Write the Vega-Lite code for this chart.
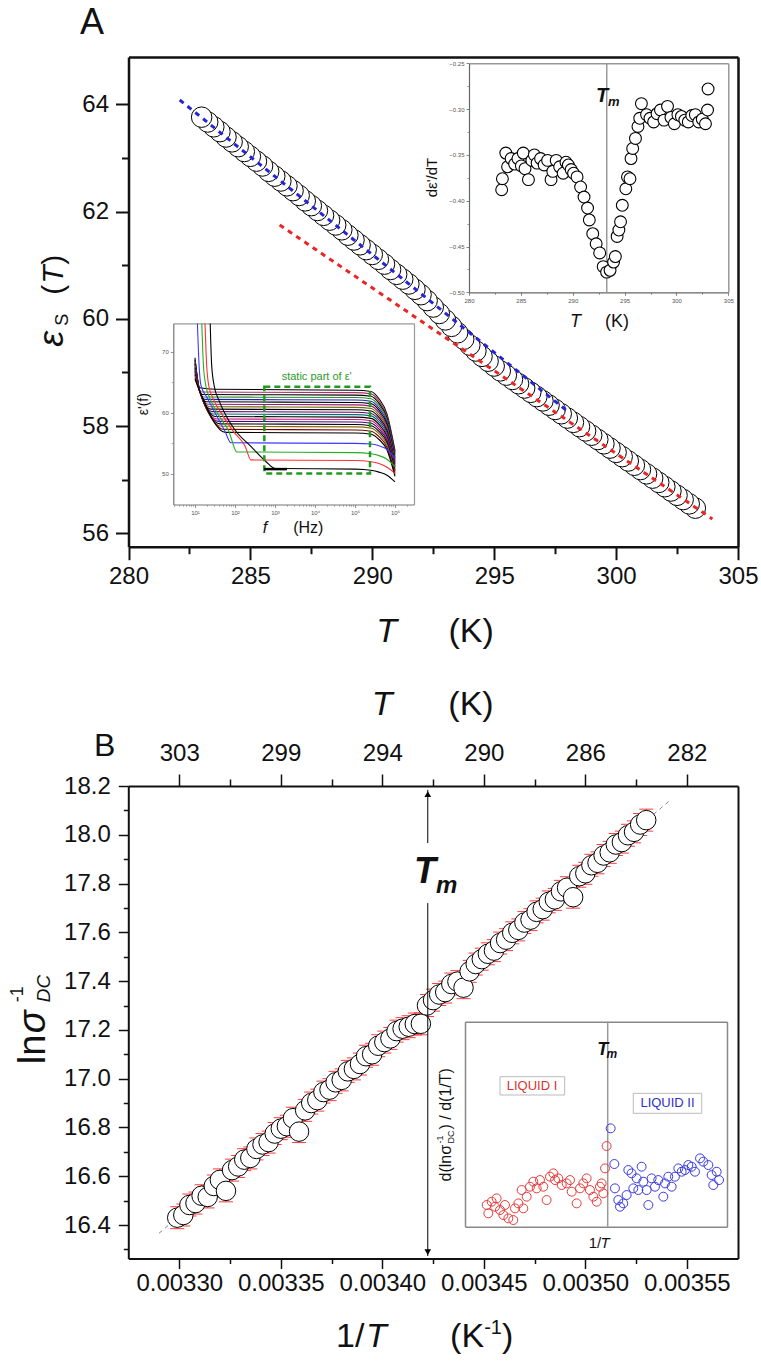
{
"$schema": "https://vega.github.io/schema/vega-lite/v6.json",
"width": 761, "height": 1366,
"autosize": {"type": "none"},
"padding": 0,
"background": "white",
"config": {
  "view": {"stroke": null},
  "axis": {"grid": false, "labelFont": "Liberation Sans", "titleFont": "Liberation Sans", "domainColor": "#111", "tickColor": "#111", "labelColor": "#111", "labelFlush": false, "labelOverlap": false},
  "text": {"font": "Liberation Sans", "color": "#111"}
},
"datasets": {
  "one": [{"k": 1}],
  "epsA": [
    {"T":303.25,"e":56.47},{"T":303.0,"e":56.55},{"T":302.75,"e":56.63},{"T":302.5,"e":56.71},{"T":302.25,"e":56.79},{"T":302.0,"e":56.87},{"T":301.75,"e":56.95},{"T":301.5,"e":57.03},{"T":301.25,"e":57.11},{"T":301.0,"e":57.19},{"T":300.75,"e":57.27},{"T":300.5,"e":57.35},{"T":300.25,"e":57.43},{"T":300.0,"e":57.51},{"T":299.75,"e":57.59},{"T":299.5,"e":57.67},{"T":299.25,"e":57.75},{"T":299.0,"e":57.83},{"T":298.75,"e":57.91},{"T":298.5,"e":57.99},{"T":298.25,"e":58.07},{"T":298.0,"e":58.15},{"T":297.75,"e":58.23},{"T":297.5,"e":58.31},{"T":297.25,"e":58.39},{"T":297.0,"e":58.47},{"T":296.75,"e":58.55},{"T":296.5,"e":58.63},{"T":296.25,"e":58.71},{"T":296.0,"e":58.79},{"T":295.75,"e":58.87},{"T":295.5,"e":58.95},{"T":295.25,"e":59.03},{"T":295.0,"e":59.12},{"T":294.75,"e":59.21},{"T":294.5,"e":59.30},{"T":294.25,"e":59.40},{"T":294.0,"e":59.51},{"T":293.75,"e":59.62},{"T":293.5,"e":59.74},{"T":293.25,"e":59.86},{"T":293.0,"e":59.98},{"T":292.75,"e":60.10},{"T":292.5,"e":60.22},{"T":292.25,"e":60.34},{"T":292.0,"e":60.45},{"T":291.75,"e":60.55},{"T":291.5,"e":60.65},{"T":291.25,"e":60.74},{"T":291.0,"e":60.83},{"T":290.75,"e":60.92},{"T":290.5,"e":61.02},{"T":290.25,"e":61.11},{"T":290.0,"e":61.20},{"T":289.75,"e":61.29},{"T":289.5,"e":61.38},{"T":289.25,"e":61.47},{"T":289.0,"e":61.56},{"T":288.75,"e":61.66},{"T":288.5,"e":61.75},{"T":288.25,"e":61.84},{"T":288.0,"e":61.93},{"T":287.75,"e":62.02},{"T":287.5,"e":62.11},{"T":287.25,"e":62.20},{"T":287.0,"e":62.30},{"T":286.75,"e":62.39},{"T":286.5,"e":62.48},{"T":286.25,"e":62.57},{"T":286.0,"e":62.66},{"T":285.75,"e":62.75},{"T":285.5,"e":62.85},{"T":285.25,"e":62.94},{"T":285.0,"e":63.03},{"T":284.75,"e":63.12},{"T":284.5,"e":63.21},{"T":284.25,"e":63.30},{"T":284.0,"e":63.39},{"T":283.75,"e":63.49},{"T":283.5,"e":63.58},{"T":283.25,"e":63.67},{"T":283.0,"e":63.76}
  ],
  "blueA": [{"T":282.1,"e":64.08},{"T":298.0,"e":58.28}],
  "redA": [{"T":286.2,"e":61.75},{"T":303.95,"e":56.27}],
  "dA": [
    {"T":283.15,"v":-0.388},{"T":283.22,"v":-0.376},{"T":283.55,"v":-0.348},{"T":283.72,"v":-0.363},{"T":284.06,"v":-0.354},{"T":284.40,"v":-0.360},{"T":284.72,"v":-0.354},{"T":285.05,"v":-0.362},{"T":285.23,"v":-0.348},{"T":285.40,"v":-0.365},{"T":285.73,"v":-0.377},{"T":286.06,"v":-0.356},{"T":286.30,"v":-0.350},{"T":286.57,"v":-0.359},{"T":286.90,"v":-0.354},{"T":287.24,"v":-0.361},{"T":287.58,"v":-0.356},{"T":287.91,"v":-0.377},{"T":288.08,"v":-0.368},{"T":288.41,"v":-0.356},{"T":288.74,"v":-0.363},{"T":289.08,"v":-0.370},{"T":289.35,"v":-0.358},{"T":289.58,"v":-0.361},{"T":289.85,"v":-0.366},{"T":290.08,"v":-0.370},{"T":290.42,"v":-0.374},{"T":290.76,"v":-0.385},{"T":291.09,"v":-0.396},{"T":291.43,"v":-0.408},{"T":291.60,"v":-0.421},{"T":291.93,"v":-0.436},{"T":292.26,"v":-0.447},{"T":292.60,"v":-0.457},{"T":292.94,"v":-0.472},{"T":293.27,"v":-0.478},{"T":293.60,"v":-0.476},{"T":293.94,"v":-0.467},{"T":294.11,"v":-0.461},{"T":294.28,"v":-0.439},{"T":294.45,"v":-0.432},{"T":294.61,"v":-0.423},{"T":294.78,"v":-0.405},{"T":295.12,"v":-0.387},{"T":295.28,"v":-0.374},{"T":295.52,"v":-0.376},{"T":295.62,"v":-0.354},{"T":295.78,"v":-0.343},{"T":296.05,"v":-0.332},{"T":296.29,"v":-0.319},{"T":296.46,"v":-0.310},{"T":296.62,"v":-0.294},{"T":297.12,"v":-0.306},{"T":297.45,"v":-0.310},{"T":297.80,"v":-0.314},{"T":298.13,"v":-0.305},{"T":298.46,"v":-0.301},{"T":298.80,"v":-0.312},{"T":299.14,"v":-0.297},{"T":299.47,"v":-0.309},{"T":299.80,"v":-0.316},{"T":300.14,"v":-0.306},{"T":300.48,"v":-0.308},{"T":300.81,"v":-0.312},{"T":301.14,"v":-0.314},{"T":301.48,"v":-0.307},{"T":301.82,"v":-0.306},{"T":302.15,"v":-0.314},{"T":302.49,"v":-0.311},{"T":302.80,"v":-0.316},{"T":303.00,"v":-0.301},{"T":303.05,"v":-0.278}
  ],
  "curves": [
    {"c":"d01","f":10,"e":69.0},{"c":"d01","f":13.18,"e":64.1},{"c":"d01","f":31.6,"e":63.85},{"c":"d01","f":100000,"e":63.7},{"c":"d01","f":251200,"e":63.5},{"c":"d01","f":398100,"e":62.3},{"c":"d01","f":631000,"e":59.8},{"c":"d01","f":1000000,"e":53.8},
    {"c":"d02","f":10,"e":68.8},{"c":"d02","f":13.18,"e":63.5},{"c":"d02","f":13.5,"e":63.4},{"c":"d02","f":100000,"e":63.3},{"c":"d02","f":251200,"e":63.1},{"c":"d02","f":398100,"e":61.92},{"c":"d02","f":631000,"e":59.46},{"c":"d02","f":1000000,"e":53.56},
    {"c":"d03","f":10,"e":68.6},{"c":"d03","f":13.18,"e":63.5},{"c":"d03","f":14.7,"e":63.0},{"c":"d03","f":100000,"e":62.9},{"c":"d03","f":251200,"e":62.7},{"c":"d03","f":398100,"e":61.54},{"c":"d03","f":631000,"e":59.13},{"c":"d03","f":1000000,"e":53.32},
    {"c":"d04","f":10,"e":68.4},{"c":"d04","f":13.18,"e":63.5},{"c":"d04","f":16.1,"e":62.6},{"c":"d04","f":100000,"e":62.5},{"c":"d04","f":251200,"e":62.3},{"c":"d04","f":398100,"e":61.16},{"c":"d04","f":631000,"e":58.79},{"c":"d04","f":1000000,"e":53.08},
    {"c":"d05","f":10,"e":68.2},{"c":"d05","f":13.18,"e":63.5},{"c":"d05","f":17.5,"e":62.2},{"c":"d05","f":100000,"e":62.1},{"c":"d05","f":251200,"e":61.9},{"c":"d05","f":398100,"e":60.78},{"c":"d05","f":631000,"e":58.46},{"c":"d05","f":1000000,"e":52.84},
    {"c":"d06","f":10,"e":68.0},{"c":"d06","f":13.18,"e":63.5},{"c":"d06","f":19.1,"e":61.8},{"c":"d06","f":100000,"e":61.7},{"c":"d06","f":251200,"e":61.5},{"c":"d06","f":398100,"e":60.40},{"c":"d06","f":631000,"e":58.12},{"c":"d06","f":1000000,"e":52.6},
    {"c":"d07","f":10,"e":67.8},{"c":"d07","f":13.18,"e":63.5},{"c":"d07","f":20.9,"e":61.4},{"c":"d07","f":100000,"e":61.3},{"c":"d07","f":251200,"e":61.1},{"c":"d07","f":398100,"e":60.02},{"c":"d07","f":631000,"e":57.78},{"c":"d07","f":1000000,"e":52.36},
    {"c":"d08","f":10,"e":67.6},{"c":"d08","f":13.18,"e":63.5},{"c":"d08","f":22.8,"e":61.0},{"c":"d08","f":100000,"e":60.9},{"c":"d08","f":251200,"e":60.7},{"c":"d08","f":398100,"e":59.63},{"c":"d08","f":631000,"e":57.45},{"c":"d08","f":1000000,"e":52.12},
    {"c":"d09","f":10,"e":67.4},{"c":"d09","f":13.18,"e":63.5},{"c":"d09","f":24.9,"e":60.6},{"c":"d09","f":100000,"e":60.5},{"c":"d09","f":251200,"e":60.3},{"c":"d09","f":398100,"e":59.25},{"c":"d09","f":631000,"e":57.11},{"c":"d09","f":1000000,"e":51.88},
    {"c":"d10","f":10,"e":67.2},{"c":"d10","f":13.18,"e":63.5},{"c":"d10","f":27.2,"e":60.2},{"c":"d10","f":100000,"e":60.1},{"c":"d10","f":251200,"e":59.9},{"c":"d10","f":398100,"e":58.87},{"c":"d10","f":631000,"e":56.78},{"c":"d10","f":1000000,"e":51.64},
    {"c":"d11","f":10,"e":67.0},{"c":"d11","f":13.18,"e":63.5},{"c":"d11","f":29.6,"e":59.8},{"c":"d11","f":100000,"e":59.7},{"c":"d11","f":251200,"e":59.5},{"c":"d11","f":398100,"e":58.49},{"c":"d11","f":631000,"e":56.44},{"c":"d11","f":1000000,"e":51.4},
    {"c":"d12","f":10,"e":66.8},{"c":"d12","f":13.18,"e":63.5},{"c":"d12","f":32.4,"e":59.4},{"c":"d12","f":100000,"e":59.3},{"c":"d12","f":251200,"e":59.1},{"c":"d12","f":398100,"e":58.11},{"c":"d12","f":631000,"e":56.10},{"c":"d12","f":1000000,"e":51.16},
    {"c":"d13","f":10,"e":66.6},{"c":"d13","f":13.18,"e":63.5},{"c":"d13","f":35.3,"e":59.0},{"c":"d13","f":100000,"e":58.9},{"c":"d13","f":251200,"e":58.7},{"c":"d13","f":398100,"e":57.73},{"c":"d13","f":631000,"e":55.77},{"c":"d13","f":1000000,"e":50.92},
    {"c":"d14","f":10,"e":66.4},{"c":"d14","f":13.18,"e":63.5},{"c":"d14","f":38.6,"e":58.6},{"c":"d14","f":100000,"e":58.5},{"c":"d14","f":251200,"e":58.3},{"c":"d14","f":398100,"e":57.35},{"c":"d14","f":631000,"e":55.43},{"c":"d14","f":1000000,"e":50.68},
    {"c":"d15","f":10,"e":66.2},{"c":"d15","f":13.18,"e":63.5},{"c":"d15","f":42.2,"e":58.2},{"c":"d15","f":100000,"e":58.1},{"c":"d15","f":251200,"e":57.9},{"c":"d15","f":398100,"e":56.97},{"c":"d15","f":631000,"e":55.10},{"c":"d15","f":1000000,"e":50.44},
    {"c":"d16","f":10,"e":66.0},{"c":"d16","f":13.18,"e":63.5},{"c":"d16","f":46.0,"e":57.8},{"c":"d16","f":100000,"e":57.7},{"c":"d16","f":251200,"e":57.5},{"c":"d16","f":398100,"e":56.59},{"c":"d16","f":631000,"e":54.76},{"c":"d16","f":1000000,"e":50.2},
    {"c":"d17","f":10,"e":65.75},{"c":"d17","f":13.18,"e":63.5},{"c":"d17","f":51.3,"e":57.3},{"c":"d17","f":100000,"e":57.2},{"c":"d17","f":251200,"e":57.0},{"c":"d17","f":398100,"e":56.11},{"c":"d17","f":631000,"e":54.34},{"c":"d17","f":1000000,"e":49.9},
    {"c":"d18","f":10,"e":65.5},{"c":"d18","f":13.18,"e":63.5},{"c":"d18","f":57.3,"e":56.8},{"c":"d18","f":100000,"e":56.7},{"c":"d18","f":251200,"e":56.5},{"c":"d18","f":398100,"e":55.64},{"c":"d18","f":631000,"e":53.92},{"c":"d18","f":1000000,"e":49.6},
    {"c":"lb","f":11.5,"e":74.6},{"c":"lb","f":12.6,"e":68.0},{"c":"lb","f":14.1,"e":64.5},{"c":"lb","f":20,"e":62.5},{"c":"lb","f":31.6,"e":60.0},{"c":"lb","f":56,"e":57.0},{"c":"lb","f":79.4,"e":55.1},{"c":"lb","f":100000,"e":55.0},{"c":"lb","f":251200,"e":54.9},{"c":"lb","f":398100,"e":54.6},{"c":"lb","f":631000,"e":54.0},{"c":"lb","f":1000000,"e":52.5},
    {"c":"lg","f":14.8,"e":74.6},{"c":"lg","f":16.2,"e":68.0},{"c":"lg","f":18.6,"e":64.5},{"c":"lg","f":25,"e":62.0},{"c":"lg","f":40,"e":59.5},{"c":"lg","f":70,"e":57.0},{"c":"lg","f":112,"e":53.6},{"c":"lg","f":100000,"e":53.5},{"c":"lg","f":251200,"e":53.3},{"c":"lg","f":398100,"e":53.0},{"c":"lg","f":631000,"e":52.4},{"c":"lg","f":1000000,"e":51.2},
    {"c":"lr","f":17.8,"e":74.6},{"c":"lr","f":19.5,"e":68.0},{"c":"lr","f":22,"e":64.5},{"c":"lr","f":30,"e":62.0},{"c":"lr","f":50,"e":59.5},{"c":"lr","f":90,"e":57.0},{"c":"lr","f":180,"e":54.5},{"c":"lr","f":250,"e":52.3},{"c":"lr","f":100000,"e":52.2},{"c":"lr","f":251200,"e":52.0},{"c":"lr","f":398100,"e":51.7},{"c":"lr","f":631000,"e":51.1},{"c":"lr","f":1000000,"e":50.1},
    {"c":"lk","f":24,"e":74.6},{"c":"lk","f":26,"e":68.0},{"c":"lk","f":30,"e":64.5},{"c":"lk","f":40,"e":62.0},{"c":"lk","f":60,"e":59.5},{"c":"lk","f":100,"e":57.2},{"c":"lk","f":250,"e":54.5},{"c":"lk","f":600,"e":52.0},{"c":"lk","f":1000,"e":50.9},{"c":"lk","f":100000,"e":50.8},{"c":"lk","f":251200,"e":50.6},{"c":"lk","f":398100,"e":50.3},{"c":"lk","f":631000,"e":49.8},{"c":"lk","f":1000000,"e":48.7}
  ],
  "lnB": [
    {"x":0.003299,"y":16.430,"lo":16.385,"hi":16.475},{"x":0.003302,"y":16.441,"lo":16.396,"hi":16.486},{"x":0.003305,"y":16.482,"lo":16.437,"hi":16.527},{"x":0.003308,"y":16.490,"lo":16.445,"hi":16.535},{"x":0.003311,"y":16.520,"lo":16.475,"hi":16.565},{"x":0.003314,"y":16.515,"lo":16.470,"hi":16.560},{"x":0.003317,"y":16.560,"lo":16.515,"hi":16.605},{"x":0.003320,"y":16.585,"lo":16.540,"hi":16.630},{"x":0.003323,"y":16.540,"lo":16.495,"hi":16.585},{"x":0.003326,"y":16.625,"lo":16.580,"hi":16.670},
    {"x":0.003329,"y":16.640,"lo":16.595,"hi":16.685},{"x":0.003332,"y":16.668,"lo":16.623,"hi":16.713},{"x":0.003335,"y":16.675,"lo":16.630,"hi":16.720},{"x":0.003338,"y":16.712,"lo":16.667,"hi":16.757},{"x":0.003341,"y":16.730,"lo":16.685,"hi":16.775},{"x":0.003344,"y":16.740,"lo":16.695,"hi":16.785},{"x":0.003347,"y":16.775,"lo":16.730,"hi":16.820},{"x":0.003350,"y":16.795,"lo":16.750,"hi":16.840},{"x":0.003353,"y":16.805,"lo":16.760,"hi":16.850},{"x":0.003356,"y":16.838,"lo":16.793,"hi":16.883},
    {"x":0.003359,"y":16.783,"lo":16.738,"hi":16.828},{"x":0.003362,"y":16.870,"lo":16.825,"hi":16.915},{"x":0.003365,"y":16.900,"lo":16.855,"hi":16.945},{"x":0.003368,"y":16.912,"lo":16.867,"hi":16.957},{"x":0.003371,"y":16.945,"lo":16.900,"hi":16.990},{"x":0.003374,"y":16.955,"lo":16.910,"hi":17.000},{"x":0.003377,"y":16.985,"lo":16.940,"hi":17.030},{"x":0.003380,"y":16.995,"lo":16.950,"hi":17.040},{"x":0.003383,"y":17.030,"lo":16.985,"hi":17.075},{"x":0.003386,"y":17.040,"lo":16.995,"hi":17.085},
    {"x":0.003389,"y":17.060,"lo":17.015,"hi":17.105},{"x":0.003392,"y":17.092,"lo":17.047,"hi":17.137},{"x":0.003395,"y":17.100,"lo":17.055,"hi":17.145},{"x":0.003398,"y":17.135,"lo":17.090,"hi":17.180},{"x":0.003401,"y":17.150,"lo":17.105,"hi":17.195},{"x":0.003404,"y":17.165,"lo":17.120,"hi":17.210},{"x":0.003407,"y":17.195,"lo":17.150,"hi":17.240},{"x":0.003410,"y":17.205,"lo":17.160,"hi":17.250},{"x":0.003413,"y":17.213,"lo":17.168,"hi":17.258},{"x":0.003416,"y":17.224,"lo":17.179,"hi":17.269},
    {"x":0.003419,"y":17.225,"lo":17.180,"hi":17.270},{"x":0.003422,"y":17.300,"lo":17.255,"hi":17.345},{"x":0.003425,"y":17.322,"lo":17.277,"hi":17.367},{"x":0.003428,"y":17.345,"lo":17.300,"hi":17.390},{"x":0.003431,"y":17.355,"lo":17.310,"hi":17.400},{"x":0.003434,"y":17.388,"lo":17.343,"hi":17.433},{"x":0.003437,"y":17.398,"lo":17.353,"hi":17.443},{"x":0.003440,"y":17.373,"lo":17.328,"hi":17.418},{"x":0.003443,"y":17.440,"lo":17.395,"hi":17.485},{"x":0.003446,"y":17.470,"lo":17.425,"hi":17.515},
    {"x":0.003449,"y":17.490,"lo":17.445,"hi":17.535},{"x":0.003452,"y":17.512,"lo":17.467,"hi":17.557},{"x":0.003455,"y":17.525,"lo":17.480,"hi":17.570},{"x":0.003458,"y":17.556,"lo":17.511,"hi":17.601},{"x":0.003461,"y":17.570,"lo":17.525,"hi":17.615},{"x":0.003464,"y":17.598,"lo":17.553,"hi":17.643},{"x":0.003467,"y":17.610,"lo":17.565,"hi":17.655},{"x":0.003470,"y":17.640,"lo":17.595,"hi":17.685},{"x":0.003473,"y":17.652,"lo":17.607,"hi":17.697},{"x":0.003476,"y":17.684,"lo":17.639,"hi":17.729},
    {"x":0.003479,"y":17.695,"lo":17.650,"hi":17.740},{"x":0.003482,"y":17.725,"lo":17.680,"hi":17.770},{"x":0.003485,"y":17.735,"lo":17.690,"hi":17.780},{"x":0.003488,"y":17.768,"lo":17.723,"hi":17.813},{"x":0.003491,"y":17.783,"lo":17.738,"hi":17.828},{"x":0.003494,"y":17.744,"lo":17.699,"hi":17.789},{"x":0.003497,"y":17.830,"lo":17.785,"hi":17.875},{"x":0.003500,"y":17.842,"lo":17.797,"hi":17.887},{"x":0.003503,"y":17.875,"lo":17.830,"hi":17.920},{"x":0.003506,"y":17.885,"lo":17.840,"hi":17.930},
    {"x":0.003509,"y":17.915,"lo":17.870,"hi":17.960},{"x":0.003512,"y":17.928,"lo":17.883,"hi":17.973},{"x":0.003515,"y":17.960,"lo":17.915,"hi":18.005},{"x":0.003518,"y":17.970,"lo":17.925,"hi":18.015},{"x":0.003521,"y":17.998,"lo":17.953,"hi":18.043},{"x":0.003524,"y":18.012,"lo":17.967,"hi":18.057},{"x":0.003527,"y":18.042,"lo":17.997,"hi":18.087},{"x":0.003530,"y":18.060,"lo":18.015,"hi":18.105}
  ],
  "fitB": [{"x":0.003290,"y":16.366},{"x":0.003541,"y":18.136}],
  "derB": [
    {"x":0.0033006,"y":6293,"g":"I"},{"x":0.0032990,"y":6476,"g":"I"},{"x":0.0033040,"y":6549,"g":"I"},{"x":0.0033090,"y":6622,"g":"I"},{"x":0.0033074,"y":6439,"g":"I"},{"x":0.0033124,"y":6366,"g":"I"},{"x":0.0033158,"y":6256,"g":"I"},{"x":0.0033174,"y":6476,"g":"I"},{"x":0.0033208,"y":6183,"g":"I"},{"x":0.0033258,"y":6146,"g":"I"},{"x":0.0033275,"y":6402,"g":"I"},{"x":0.0033309,"y":6512,"g":"I"},{"x":0.0033359,"y":6402,"g":"I"},{"x":0.0033342,"y":6805,"g":"I"},{"x":0.0033393,"y":6659,"g":"I"},{"x":0.0033426,"y":6878,"g":"I"},{"x":0.0033460,"y":6988,"g":"I"},{"x":0.0033494,"y":6842,"g":"I"},{"x":0.0033527,"y":7024,"g":"I"},{"x":0.0033561,"y":6878,"g":"I"},{"x":0.0033594,"y":6585,"g":"I"},{"x":0.0033628,"y":7098,"g":"I"},{"x":0.0033662,"y":7171,"g":"I"},{"x":0.0033679,"y":7024,"g":"I"},{"x":0.0033712,"y":7061,"g":"I"},{"x":0.0033746,"y":6915,"g":"I"},{"x":0.0033796,"y":6951,"g":"I"},{"x":0.0033830,"y":7024,"g":"I"},{"x":0.0033847,"y":6768,"g":"I"},{"x":0.0033897,"y":6512,"g":"I"},{"x":0.0033931,"y":6842,"g":"I"},{"x":0.0033964,"y":6951,"g":"I"},{"x":0.0033998,"y":7061,"g":"I"},{"x":0.0034031,"y":6805,"g":"I"},{"x":0.0034065,"y":6659,"g":"I"},{"x":0.0034099,"y":6549,"g":"I"},{"x":0.0034132,"y":6878,"g":"I"},{"x":0.0034149,"y":6951,"g":"I"},{"x":0.0034166,"y":6732,"g":"I"},{"x":0.0034183,"y":7280,"g":"I"},{"x":0.0034199,"y":7771,"g":"I"},
    {"x":0.0034240,"y":8159,"g":"II"},{"x":0.0034277,"y":7376,"g":"II"},{"x":0.0034283,"y":6842,"g":"II"},{"x":0.0034317,"y":6585,"g":"II"},{"x":0.0034334,"y":6439,"g":"II"},{"x":0.0034367,"y":6512,"g":"II"},{"x":0.0034401,"y":6695,"g":"II"},{"x":0.0034418,"y":7244,"g":"II"},{"x":0.0034451,"y":7171,"g":"II"},{"x":0.0034468,"y":6842,"g":"II"},{"x":0.0034502,"y":7061,"g":"II"},{"x":0.0034519,"y":6805,"g":"II"},{"x":0.0034552,"y":7317,"g":"II"},{"x":0.0034569,"y":6988,"g":"II"},{"x":0.0034603,"y":6805,"g":"II"},{"x":0.0034620,"y":6476,"g":"II"},{"x":0.0034653,"y":7061,"g":"II"},{"x":0.0034687,"y":6878,"g":"II"},{"x":0.0034720,"y":7024,"g":"II"},{"x":0.0034771,"y":6659,"g":"II"},{"x":0.0034788,"y":6951,"g":"II"},{"x":0.0034821,"y":7098,"g":"II"},{"x":0.0034855,"y":6878,"g":"II"},{"x":0.0034888,"y":7098,"g":"II"},{"x":0.0034922,"y":7280,"g":"II"},{"x":0.0034956,"y":7207,"g":"II"},{"x":0.0034989,"y":7244,"g":"II"},{"x":0.0035023,"y":7354,"g":"II"},{"x":0.0035057,"y":7317,"g":"II"},{"x":0.0035090,"y":7207,"g":"II"},{"x":0.0035141,"y":7500,"g":"II"},{"x":0.0035174,"y":7427,"g":"II"},{"x":0.0035225,"y":7354,"g":"II"},{"x":0.0035258,"y":7134,"g":"II"},{"x":0.0035275,"y":6915,"g":"II"},{"x":0.0035309,"y":7207,"g":"II"},{"x":0.0035333,"y":7024,"g":"II"}
  ]
},
"layer": [
  {
    "layer": [
      {"data": {"name": "curves"}, "mark": {"type": "line", "strokeWidth": 1.1, "interpolate": "monotone"},
       "encoding": {
         "x": {"field": "f", "type": "quantitative", "scale": {"type": "log", "domain": [2.868, 2985000], "range": [173.3, 414], "nice": false},
               "axis": {"orient": "bottom", "offset": -861.5, "values": [10, 100, 1000, 10000, 100000, 1000000], "labelExpr": "'10' + ['⁰','¹','²','³','⁴','⁵','⁶','⁷'][round(log(datum.value)/LN10)]", "labelFontSize": 6, "labelPadding": 2, "tickSize": 3, "tickWidth": 0.8, "domainWidth": 1.2, "domainColor": "#777", "tickColor": "#777", "labelColor": "#555", "title": null}},
         "y": {"field": "e", "type": "quantitative", "scale": {"domain": [45.01, 74.64], "range": [504.5, 323.3], "nice": false, "zero": false},
               "axis": {"orient": "left", "offset": -173.3, "values": [50, 60, 70], "format": "d", "labelFontSize": 6, "labelPadding": 2, "tickSize": 3, "tickWidth": 0.8, "domainWidth": 1.2, "domainColor": "#777", "tickColor": "#777", "labelColor": "#555", "title": null}},
         "color": {"field": "c", "type": "nominal", "legend": null,
                   "scale": {"domain": ["d01","d02","d03","d04","d05","d06","d07","d08","d09","d10","d11","d12","d13","d14","d15","d16","d17","d18","lb","lg","lr","lk"],
                             "range": ["#000000","#b0306a","#000000","#2a8a2a","#1f1fb0","#000000","#a0157a","#6b6b00","#000000","#700070","#006f6f","#000000","#d0137a","#4b0082","#000000","#8b6a0b","#7a0000","#000000","#3b3bff","#22b022","#ff3030","#000000"]}}
       }},
      {"data": {"name": "curves"}, "mark": {"type": "point", "opacity": 0},
       "encoding": {
         "x": {"field": "f", "type": "quantitative", "axis": {"orient": "bottom", "offset": -861.5, "values": [3,4,5,6,7,8,9,20,30,40,50,60,70,80,90,200,300,400,500,600,700,800,900,2000,3000,4000,5000,6000,7000,8000,9000,20000,30000,40000,50000,60000,70000,80000,90000,200000,300000,400000,500000,600000,700000,800000,900000,2000000], "labels": false, "domain": false, "tickSize": 1.8, "tickWidth": 0.6, "tickColor": "#777", "title": null}},
         "y": {"field": "e", "type": "quantitative", "axis": {"orient": "left", "offset": -173.3, "values": [55, 65], "labels": false, "domain": false, "tickSize": 2, "tickWidth": 0.6, "tickColor": "#777", "title": null}}
       }},
      {"data": {"name": "curves"}, "mark": {"type": "point", "opacity": 0},
       "encoding": {
         "x": {"field": "f", "type": "quantitative", "axis": {"orient": "top", "offset": -323.3, "ticks": false, "labels": false, "domainWidth": 1.2, "domainColor": "#999", "title": null}},
         "y": {"field": "e", "type": "quantitative", "axis": {"orient": "right", "offset": -347, "ticks": false, "labels": false, "domainWidth": 1.2, "domainColor": "#999", "title": null}}
       }},
      {"data": {"name": "one"}, "mark": {"type": "rect", "fillOpacity": 0, "stroke": "#1f9a1f", "strokeWidth": 2.5, "strokeDash": [6, 4]},
       "encoding": {"x": {"datum": 541, "type": "quantitative", "axis": null}, "x2": {"datum": 237000}, "y": {"datum": 64.25, "type": "quantitative", "axis": null}, "y2": {"datum": 50.09}}},
      {"data": {"name": "one"}, "mark": {"type": "rule", "color": "#000", "strokeWidth": 2.5},
       "encoding": {"x": {"datum": 537, "type": "quantitative", "axis": null}, "x2": {"datum": 1995}, "y": {"datum": 50.8, "type": "quantitative", "axis": null}}},
      {"data": {"name": "one"}, "mark": {"type": "text", "text": "static part of ε'", "fontSize": 11, "color": "#2a9a2a", "align": "center", "baseline": "middle"},
       "encoding": {"x": {"datum": 11000, "type": "quantitative", "axis": null}, "y": {"datum": 65.9, "type": "quantitative", "axis": null}}},
      {"data": {"name": "one"}, "mark": {"type": "text", "text": "ε'(f)", "fontSize": 14, "angle": 270, "align": "center", "baseline": "middle"},
       "encoding": {"x": {"datum": 0.531, "type": "quantitative", "axis": null}, "y": {"datum": 61.42, "type": "quantitative", "axis": null}}},
      {"data": {"name": "one"}, "mark": {"type": "text", "text": "f", "fontSize": 16, "fontStyle": "italic", "align": "center", "baseline": "middle"},
       "encoding": {"x": {"datum": 562, "type": "quantitative", "axis": null}, "y": {"datum": 41.1, "type": "quantitative", "axis": null}}},
      {"data": {"name": "one"}, "mark": {"type": "text", "text": "(Hz)", "fontSize": 16, "align": "center", "baseline": "middle"},
       "encoding": {"x": {"datum": 6800, "type": "quantitative", "axis": null}, "y": {"datum": 41.1, "type": "quantitative", "axis": null}}}
    ],
    "resolve": {"axis": {"x": "independent", "y": "independent"}}
  },
  {
    "layer": [
      {"data": {"name": "epsA"}, "mark": {"type": "point", "filled": true, "fill": "white", "stroke": "black", "strokeWidth": 1, "size": 420, "opacity": 1},
       "encoding": {
         "x": {"field": "T", "type": "quantitative", "scale": {"domain": [280, 305], "range": [128.5, 738], "nice": false, "zero": false},
               "axis": {"orient": "bottom", "offset": -819.3, "values": [280, 285, 290, 295, 300, 305], "format": "d", "labelFontSize": 24, "labelPadding": 5, "tickSize": 13, "tickWidth": 2, "domainWidth": 2.5, "title": null}},
         "y": {"field": "e", "type": "quantitative", "scale": {"domain": [55.752, 64.882], "range": [546.7, 57], "nice": false, "zero": false},
               "axis": {"orient": "left", "offset": -128.5, "values": [56, 58, 60, 62, 64], "format": "d", "labelFontSize": 24, "labelPadding": 7, "tickSize": 13, "tickWidth": 2, "domainWidth": 2.5, "title": null}}
       }},
      {"data": {"name": "epsA"}, "mark": {"type": "point", "opacity": 0},
       "encoding": {
         "x": {"field": "T", "type": "quantitative", "axis": {"orient": "bottom", "offset": -819.3, "values": [282.5, 287.5, 292.5, 297.5, 302.5], "labels": false, "domain": false, "tickSize": 7, "tickWidth": 2, "title": null}},
         "y": {"field": "e", "type": "quantitative", "axis": {"orient": "left", "offset": -128.5, "values": [57, 59, 61, 63], "labels": false, "domain": false, "tickSize": 7, "tickWidth": 2, "title": null}}
       }},
      {"data": {"name": "epsA"}, "mark": {"type": "point", "opacity": 0},
       "encoding": {
         "x": {"field": "T", "type": "quantitative", "axis": {"orient": "top", "offset": -57, "ticks": false, "labels": false, "domainWidth": 2.5, "title": null}},
         "y": {"field": "e", "type": "quantitative", "axis": {"orient": "right", "offset": -23, "ticks": false, "labels": false, "domainWidth": 2.5, "title": null}}
       }},
      {"data": {"name": "blueA"}, "mark": {"type": "line", "color": "#2424d8", "strokeDash": [5, 5], "strokeWidth": 3},
       "encoding": {"x": {"field": "T", "type": "quantitative", "axis": null}, "y": {"field": "e", "type": "quantitative", "axis": null}}},
      {"data": {"name": "redA"}, "mark": {"type": "line", "color": "#ee2222", "strokeDash": [5, 5], "strokeWidth": 3},
       "encoding": {"x": {"field": "T", "type": "quantitative", "axis": null}, "y": {"field": "e", "type": "quantitative", "axis": null}}},
      {"data": {"name": "one"}, "mark": {"type": "text", "text": "A", "fontSize": 36, "align": "center", "baseline": "alphabetic"},
       "encoding": {"x": {"datum": 278.5, "type": "quantitative", "axis": null}, "y": {"datum": 65.32, "type": "quantitative", "axis": null}}},
      {"data": {"name": "one"}, "mark": {"type": "text", "text": "ε", "fontSize": 36, "fontStyle": "italic", "angle": 270, "align": "left", "baseline": "alphabetic"},
       "encoding": {"x": {"datum": 277.313, "type": "quantitative", "axis": null}, "y": {"datum": 59.48, "type": "quantitative", "axis": null}}},
      {"data": {"name": "one"}, "mark": {"type": "text", "text": "S", "fontSize": 18, "angle": 270, "align": "left", "baseline": "alphabetic", "dx": 21, "dy": 5},
       "encoding": {"x": {"datum": 277.313, "type": "quantitative", "axis": null}, "y": {"datum": 59.48, "type": "quantitative", "axis": null}}},
      {"data": {"name": "one"}, "mark": {"type": "text", "text": "(", "fontSize": 30, "angle": 270, "align": "left", "baseline": "alphabetic", "dx": 52},
       "encoding": {"x": {"datum": 277.313, "type": "quantitative", "axis": null}, "y": {"datum": 59.48, "type": "quantitative", "axis": null}}},
      {"data": {"name": "one"}, "mark": {"type": "text", "text": "T", "fontSize": 30, "fontStyle": "italic", "angle": 270, "align": "left", "baseline": "alphabetic", "dx": 63},
       "encoding": {"x": {"datum": 277.313, "type": "quantitative", "axis": null}, "y": {"datum": 59.48, "type": "quantitative", "axis": null}}},
      {"data": {"name": "one"}, "mark": {"type": "text", "text": ")", "fontSize": 30, "angle": 270, "align": "left", "baseline": "alphabetic", "dx": 82},
       "encoding": {"x": {"datum": 277.313, "type": "quantitative", "axis": null}, "y": {"datum": 59.48, "type": "quantitative", "axis": null}}},
      {"data": {"name": "one"}, "mark": {"type": "text", "text": "T", "fontSize": 34, "fontStyle": "italic", "align": "center", "baseline": "alphabetic"},
       "encoding": {"x": {"datum": 290.59, "type": "quantitative", "axis": null}, "y": {"datum": 53.979, "type": "quantitative", "axis": null}}},
      {"data": {"name": "one"}, "mark": {"type": "text", "text": "(K)", "fontSize": 34, "align": "center", "baseline": "alphabetic"},
       "encoding": {"x": {"datum": 294.05, "type": "quantitative", "axis": null}, "y": {"datum": 53.979, "type": "quantitative", "axis": null}}}
    ],
    "resolve": {"axis": {"x": "independent", "y": "independent"}}
  },
  {
    "layer": [
      {"data": {"name": "one"}, "mark": {"type": "rule", "color": "#999", "strokeWidth": 1.5},
       "encoding": {"x": {"datum": 293.28, "type": "quantitative", "axis": null}, "y": {"datum": -0.5, "type": "quantitative", "axis": null}, "y2": {"datum": -0.25}}},
      {"data": {"name": "dA"}, "mark": {"type": "point", "filled": true, "fill": "white", "stroke": "black", "strokeWidth": 1.1, "size": 140, "opacity": 1},
       "encoding": {
         "x": {"field": "T", "type": "quantitative", "scale": {"domain": [280, 305], "range": [469, 728.3], "nice": false, "zero": false},
               "axis": {"orient": "bottom", "offset": -1073.7, "values": [280, 285, 290, 295, 300, 305], "format": "d", "labelFontSize": 6, "labelPadding": 2, "tickSize": 3, "tickWidth": 0.8, "domainWidth": 1.2, "domainColor": "#666", "tickColor": "#666", "labelColor": "#555", "title": null}},
         "y": {"field": "v", "type": "quantitative", "scale": {"domain": [-0.5, -0.25], "range": [292.3, 63.3], "nice": false, "zero": false},
               "axis": {"orient": "left", "offset": -469, "values": [-0.5, -0.45, -0.4, -0.35, -0.3, -0.25], "format": ".2f", "labelFontSize": 6, "labelPadding": 2, "tickSize": 3, "tickWidth": 0.8, "domainWidth": 1.2, "domainColor": "#666", "tickColor": "#666", "labelColor": "#555", "title": null}}
       }},
      {"data": {"name": "dA"}, "mark": {"type": "point", "opacity": 0},
       "encoding": {
         "x": {"field": "T", "type": "quantitative", "axis": {"orient": "bottom", "offset": -1073.7, "values": [282.5, 287.5, 292.5, 297.5, 302.5], "labels": false, "domain": false, "tickSize": 2, "tickWidth": 0.7, "tickColor": "#666", "title": null}},
         "y": {"field": "v", "type": "quantitative", "axis": {"orient": "left", "offset": -469, "values": [-0.475, -0.425, -0.375, -0.325, -0.275], "labels": false, "domain": false, "tickSize": 2, "tickWidth": 0.7, "tickColor": "#666", "title": null}}
       }},
      {"data": {"name": "dA"}, "mark": {"type": "point", "opacity": 0},
       "encoding": {
         "x": {"field": "T", "type": "quantitative", "axis": {"orient": "top", "offset": -63.3, "ticks": false, "labels": false, "domainWidth": 1.5, "domainColor": "#999", "title": null}},
         "y": {"field": "v", "type": "quantitative", "axis": {"orient": "right", "offset": -32.7, "ticks": false, "labels": false, "domainWidth": 1.5, "domainColor": "#999", "title": null}}
       }},
      {"data": {"name": "one"}, "mark": {"type": "text", "text": "dε'/dT", "fontSize": 15, "angle": 270, "align": "center", "baseline": "middle"},
       "encoding": {"x": {"datum": 276.48, "type": "quantitative", "axis": null}, "y": {"datum": -0.3747, "type": "quantitative", "axis": null}}},
      {"data": {"name": "one"}, "mark": {"type": "text", "text": "T", "fontSize": 18, "fontStyle": "italic", "align": "center", "baseline": "middle"},
       "encoding": {"x": {"datum": 290.26, "type": "quantitative", "axis": null}, "y": {"datum": -0.5321, "type": "quantitative", "axis": null}}},
      {"data": {"name": "one"}, "mark": {"type": "text", "text": "(K)", "fontSize": 18, "align": "center", "baseline": "middle"},
       "encoding": {"x": {"datum": 294.27, "type": "quantitative", "axis": null}, "y": {"datum": -0.5321, "type": "quantitative", "axis": null}}},
      {"data": {"name": "one"}, "mark": {"type": "text", "text": "T", "fontSize": 20, "fontStyle": "italic", "fontWeight": "bold", "align": "left", "baseline": "alphabetic"},
       "encoding": {"x": {"datum": 292.24, "type": "quantitative", "axis": null}, "y": {"datum": -0.2919, "type": "quantitative", "axis": null}}},
      {"data": {"name": "one"}, "mark": {"type": "text", "text": "m", "fontSize": 13, "fontStyle": "italic", "fontWeight": "bold", "align": "left", "baseline": "alphabetic"},
       "encoding": {"x": {"datum": 293.4, "type": "quantitative", "axis": null}, "y": {"datum": -0.2966, "type": "quantitative", "axis": null}}}
    ],
    "resolve": {"axis": {"x": "independent", "y": "independent"}}
  },
  {
    "layer": [
      {"data": {"name": "fitB"}, "mark": {"type": "line", "color": "#888", "strokeWidth": 1, "strokeDash": [4, 4]},
       "encoding": {
         "x": {"field": "x", "type": "quantitative", "scale": {"domain": [0.0032749, 0.0035752], "range": [128.3, 738], "nice": false, "zero": false}, "axis": null},
         "y": {"field": "y", "type": "quantitative", "scale": {"domain": [16.2627, 18.2], "range": [1258.5, 786], "nice": false, "zero": false}, "axis": null}
       }},
      {"data": {"name": "lnB"}, "mark": {"type": "rule", "color": "#ff3a3a", "strokeWidth": 1},
       "encoding": {"x": {"field": "x", "type": "quantitative", "axis": null}, "y": {"field": "lo", "type": "quantitative", "axis": null}, "y2": {"field": "hi"}}},
      {"data": {"name": "lnB"}, "mark": {"type": "point", "shape": "M-1,0L1,0", "filled": false, "stroke": "#ff3a3a", "strokeWidth": 1, "size": 196, "opacity": 1},
       "encoding": {"x": {"field": "x", "type": "quantitative", "axis": null}, "y": {"field": "lo", "type": "quantitative", "axis": null}}},
      {"data": {"name": "lnB"}, "mark": {"type": "point", "shape": "M-1,0L1,0", "filled": false, "stroke": "#ff3a3a", "strokeWidth": 1, "size": 196, "opacity": 1},
       "encoding": {"x": {"field": "x", "type": "quantitative", "axis": null}, "y": {"field": "hi", "type": "quantitative", "axis": null}}},
      {"data": {"name": "lnB"}, "mark": {"type": "point", "filled": true, "fill": "white", "stroke": "black", "strokeWidth": 1, "size": 380, "opacity": 1},
       "encoding": {
         "x": {"field": "x", "type": "quantitative", "axis": {"orient": "bottom", "offset": -107.5, "values": [0.0033, 0.00335, 0.0034, 0.00345, 0.0035, 0.00355], "format": ".5f", "labelFontSize": 24, "labelPadding": 3, "tickSize": 10, "tickWidth": 1.5, "domainWidth": 2, "title": null}},
         "y": {"field": "y", "type": "quantitative", "axis": {"orient": "left", "offset": -128.3, "values": [16.4, 16.6, 16.8, 17.0, 17.2, 17.4, 17.6, 17.8, 18.0, 18.2], "format": ".1f", "labelFontSize": 24, "labelPadding": 8, "tickSize": 10, "tickWidth": 1.5, "domainWidth": 2, "title": null}}
       }},
      {"data": {"name": "lnB"}, "mark": {"type": "point", "opacity": 0},
       "encoding": {
         "x": {"field": "x", "type": "quantitative", "axis": {"orient": "bottom", "offset": -107.5, "values": [0.003325, 0.003375, 0.003425, 0.003475, 0.003525], "labels": false, "domain": false, "tickSize": 5, "tickWidth": 1.5, "title": null}},
         "y": {"field": "y", "type": "quantitative", "axis": {"orient": "left", "offset": -128.3, "values": [16.3, 16.5, 16.7, 16.9, 17.1, 17.3, 17.5, 17.7, 17.9, 18.1], "labels": false, "domain": false, "tickSize": 5, "tickWidth": 1.5, "title": null}}
       }},
      {"data": {"name": "lnB"}, "mark": {"type": "point", "opacity": 0},
       "encoding": {
         "x": {"field": "x", "type": "quantitative", "axis": {"orient": "top", "offset": -786, "values": [0.0033, 0.00335, 0.0034, 0.00345, 0.0035, 0.00355], "labelExpr": "format(1/datum.value, '.0f')", "labelFontSize": 24, "labelPadding": 9, "tickSize": 12, "tickWidth": 1.5, "domainWidth": 2, "title": null}},
         "y": {"field": "y", "type": "quantitative", "axis": {"orient": "right", "offset": -23, "ticks": false, "labels": false, "domainWidth": 2, "title": null}}
       }},
      {"data": {"name": "lnB"}, "mark": {"type": "point", "opacity": 0},
       "encoding": {
         "x": {"field": "x", "type": "quantitative", "axis": {"orient": "top", "offset": -786, "values": [0.003325, 0.003375, 0.003425, 0.003475, 0.003525], "labels": false, "domain": false, "tickSize": 7, "tickWidth": 1.5, "title": null}},
         "y": {"field": "y", "type": "quantitative", "axis": null}
       }},
      {"data": {"name": "one"}, "mark": {"type": "rule", "color": "black", "strokeWidth": 1},
       "encoding": {"x": {"datum": 0.0034224, "type": "quantitative", "axis": null}, "y": {"datum": 18.184, "type": "quantitative", "axis": null}, "y2": {"datum": 17.966}}},
      {"data": {"name": "one"}, "mark": {"type": "rule", "color": "black", "strokeWidth": 1},
       "encoding": {"x": {"datum": 0.0034224, "type": "quantitative", "axis": null}, "y": {"datum": 17.72, "type": "quantitative", "axis": null}, "y2": {"datum": 16.273}}},
      {"data": {"name": "one"}, "mark": {"type": "point", "shape": "triangle-up", "filled": true, "color": "black", "size": 45, "opacity": 1},
       "encoding": {"x": {"datum": 0.0034224, "type": "quantitative", "axis": null}, "y": {"datum": 18.167, "type": "quantitative", "axis": null}}},
      {"data": {"name": "one"}, "mark": {"type": "point", "shape": "triangle-down", "filled": true, "color": "black", "size": 45, "opacity": 1},
       "encoding": {"x": {"datum": 0.0034224, "type": "quantitative", "axis": null}, "y": {"datum": 16.289, "type": "quantitative", "axis": null}}},
      {"data": {"name": "one"}, "mark": {"type": "text", "text": "T", "fontSize": 36, "fontStyle": "italic", "fontWeight": "bold", "align": "left", "baseline": "alphabetic"},
       "encoding": {"x": {"datum": 0.0034156, "type": "quantitative", "axis": null}, "y": {"datum": 17.801, "type": "quantitative", "axis": null}}},
      {"data": {"name": "one"}, "mark": {"type": "text", "text": "m", "fontSize": 24, "fontStyle": "italic", "fontWeight": "bold", "align": "left", "baseline": "alphabetic"},
       "encoding": {"x": {"datum": 0.0034265, "type": "quantitative", "axis": null}, "y": {"datum": 17.76, "type": "quantitative", "axis": null}}},
      {"data": {"name": "one"}, "mark": {"type": "text", "text": "B", "fontSize": 32, "align": "center", "baseline": "middle"},
       "encoding": {"x": {"datum": 0.0032633, "type": "quantitative", "axis": null}, "y": {"datum": 18.365, "type": "quantitative", "axis": null}}},
      {"data": {"name": "one"}, "mark": {"type": "text", "text": "T", "fontSize": 34, "fontStyle": "italic", "align": "center", "baseline": "alphabetic"},
       "encoding": {"x": {"datum": 0.0033999, "type": "quantitative", "axis": null}, "y": {"datum": 18.491, "type": "quantitative", "axis": null}}},
      {"data": {"name": "one"}, "mark": {"type": "text", "text": "(K)", "fontSize": 34, "align": "center", "baseline": "alphabetic"},
       "encoding": {"x": {"datum": 0.0034437, "type": "quantitative", "axis": null}, "y": {"datum": 18.491, "type": "quantitative", "axis": null}}},
      {"data": {"name": "one"}, "mark": {"type": "text", "text": "1/", "fontSize": 34, "align": "left", "baseline": "alphabetic"},
       "encoding": {"x": {"datum": 0.0033772, "type": "quantitative", "axis": null}, "y": {"datum": 15.901, "type": "quantitative", "axis": null}}},
      {"data": {"name": "one"}, "mark": {"type": "text", "text": "T", "fontSize": 34, "fontStyle": "italic", "align": "left", "baseline": "alphabetic"},
       "encoding": {"x": {"datum": 0.003392, "type": "quantitative", "axis": null}, "y": {"datum": 15.901, "type": "quantitative", "axis": null}}},
      {"data": {"name": "one"}, "mark": {"type": "text", "text": "(K", "fontSize": 34, "align": "left", "baseline": "alphabetic"},
       "encoding": {"x": {"datum": 0.0034334, "type": "quantitative", "axis": null}, "y": {"datum": 15.901, "type": "quantitative", "axis": null}}},
      {"data": {"name": "one"}, "mark": {"type": "text", "text": "-1", "fontSize": 20, "align": "left", "baseline": "alphabetic", "dy": -13},
       "encoding": {"x": {"datum": 0.0034502, "type": "quantitative", "axis": null}, "y": {"datum": 15.901, "type": "quantitative", "axis": null}}},
      {"data": {"name": "one"}, "mark": {"type": "text", "text": ")", "fontSize": 34, "align": "left", "baseline": "alphabetic"},
       "encoding": {"x": {"datum": 0.003459, "type": "quantitative", "axis": null}, "y": {"datum": 15.901, "type": "quantitative", "axis": null}}},
      {"data": {"name": "one"}, "mark": {"type": "text", "text": "ln", "fontSize": 38, "angle": 270, "align": "left", "baseline": "alphabetic"},
       "encoding": {"x": {"datum": 0.0032338, "type": "quantitative", "axis": null}, "y": {"datum": 17.059, "type": "quantitative", "axis": null}}},
      {"data": {"name": "one"}, "mark": {"type": "text", "text": "σ", "fontSize": 38, "fontStyle": "italic", "angle": 270, "align": "left", "baseline": "alphabetic", "dx": 31},
       "encoding": {"x": {"datum": 0.0032338, "type": "quantitative", "axis": null}, "y": {"datum": 17.059, "type": "quantitative", "axis": null}}},
      {"data": {"name": "one"}, "mark": {"type": "text", "text": "-1", "fontSize": 18, "angle": 270, "align": "left", "baseline": "alphabetic", "dx": 62, "dy": -22},
       "encoding": {"x": {"datum": 0.0032338, "type": "quantitative", "axis": null}, "y": {"datum": 17.059, "type": "quantitative", "axis": null}}},
      {"data": {"name": "one"}, "mark": {"type": "text", "text": "DC", "fontSize": 19, "fontStyle": "italic", "angle": 270, "align": "left", "baseline": "alphabetic", "dx": 62, "dy": 5},
       "encoding": {"x": {"datum": 0.0032338, "type": "quantitative", "axis": null}, "y": {"datum": 17.059, "type": "quantitative", "axis": null}}}
    ],
    "resolve": {"axis": {"x": "independent", "y": "independent"}}
  },
  {
    "layer": [
      {"data": {"name": "one"}, "mark": {"type": "rule", "color": "#999", "strokeWidth": 1.5},
       "encoding": {
         "x": {"datum": 0.003421, "type": "quantitative", "scale": {"domain": [0.0032771, 0.0035413], "range": [465, 727], "nice": false, "zero": false}, "axis": null},
         "y": {"datum": 6000, "type": "quantitative", "scale": {"domain": [6000, 10500], "range": [1226.7, 1021.7], "nice": false, "zero": false}, "axis": null},
         "y2": {"datum": 10500}
       }},
      {"data": {"name": "derB"}, "mark": {"type": "point", "filled": false, "strokeWidth": 1, "size": 80, "opacity": 1},
       "encoding": {
         "x": {"field": "x", "type": "quantitative", "axis": {"orient": "bottom", "offset": -139.3, "ticks": false, "labels": false, "domainWidth": 1.5, "domainColor": "#888", "title": null}},
         "y": {"field": "y", "type": "quantitative", "axis": {"orient": "left", "offset": -465, "ticks": false, "labels": false, "domainWidth": 1.5, "domainColor": "#888", "title": null}},
         "color": {"field": "g", "type": "nominal", "legend": null, "scale": {"domain": ["I", "II"], "range": ["#e83a3a", "#3a3ae0"]}}
       }},
      {"data": {"name": "derB"}, "mark": {"type": "point", "opacity": 0},
       "encoding": {
         "x": {"field": "x", "type": "quantitative", "axis": {"orient": "top", "offset": -1021.7, "ticks": false, "labels": false, "domainWidth": 1.5, "domainColor": "#888", "title": null}},
         "y": {"field": "y", "type": "quantitative", "axis": {"orient": "right", "offset": -34, "ticks": false, "labels": false, "domainWidth": 1.5, "domainColor": "#888", "title": null}}
       }},
      {"data": {"name": "one"}, "mark": {"type": "rect", "fillOpacity": 0, "stroke": "#bbb", "strokeWidth": 1},
       "encoding": {"x": {"datum": 0.0033124, "type": "quantitative", "axis": null}, "x2": {"datum": 0.0033776}, "y": {"datum": 8891, "type": "quantitative", "axis": null}, "y2": {"datum": 9292.6}}},
      {"data": {"name": "one"}, "mark": {"type": "rect", "fillOpacity": 0, "stroke": "#bbb", "strokeWidth": 1},
       "encoding": {"x": {"datum": 0.0034468, "type": "quantitative", "axis": null}, "x2": {"datum": 0.0035158}, "y": {"datum": 8489, "type": "quantitative", "axis": null}, "y2": {"datum": 8928}}},
      {"data": {"name": "one"}, "mark": {"type": "text", "text": "LIQUID I", "fontSize": 13, "color": "#e03030", "align": "center", "baseline": "middle"},
       "encoding": {"x": {"datum": 0.0033447, "type": "quantitative", "axis": null}, "y": {"datum": 9088.5, "type": "quantitative", "axis": null}}},
      {"data": {"name": "one"}, "mark": {"type": "text", "text": "LIQUID II", "fontSize": 13, "color": "#3030c8", "align": "center", "baseline": "middle"},
       "encoding": {"x": {"datum": 0.0034813, "type": "quantitative", "axis": null}, "y": {"datum": 8708.7, "type": "quantitative", "axis": null}}},
      {"data": {"name": "one"}, "mark": {"type": "text", "text": "T", "fontSize": 18, "fontStyle": "italic", "fontWeight": "bold", "align": "left", "baseline": "alphabetic"},
       "encoding": {"x": {"datum": 0.0034105, "type": "quantitative", "axis": null}, "y": {"datum": 9769, "type": "quantitative", "axis": null}}},
      {"data": {"name": "one"}, "mark": {"type": "text", "text": "m", "fontSize": 12, "fontStyle": "italic", "fontWeight": "bold", "align": "left", "baseline": "alphabetic"},
       "encoding": {"x": {"datum": 0.0034198, "type": "quantitative", "axis": null}, "y": {"datum": 9703, "type": "quantitative", "axis": null}}},
      {"data": {"name": "one"}, "mark": {"type": "text", "text": "d(lnσ", "fontSize": 16, "angle": 270, "align": "left", "baseline": "alphabetic"},
       "encoding": {"x": {"datum": 0.003263, "type": "quantitative", "axis": null}, "y": {"datum": 6992, "type": "quantitative", "axis": null}}},
      {"data": {"name": "one"}, "mark": {"type": "text", "text": "-1", "fontSize": 9, "angle": 270, "align": "left", "baseline": "alphabetic", "dx": 38, "dy": -8},
       "encoding": {"x": {"datum": 0.003263, "type": "quantitative", "axis": null}, "y": {"datum": 6992, "type": "quantitative", "axis": null}}},
      {"data": {"name": "one"}, "mark": {"type": "text", "text": "DC", "fontSize": 9, "angle": 270, "align": "left", "baseline": "alphabetic", "dx": 38, "dy": 3},
       "encoding": {"x": {"datum": 0.003263, "type": "quantitative", "axis": null}, "y": {"datum": 6992, "type": "quantitative", "axis": null}}},
      {"data": {"name": "one"}, "mark": {"type": "text", "text": ") / d(1/T)", "fontSize": 16, "angle": 270, "align": "left", "baseline": "alphabetic", "dx": 52},
       "encoding": {"x": {"datum": 0.003263, "type": "quantitative", "axis": null}, "y": {"datum": 6992, "type": "quantitative", "axis": null}}},
      {"data": {"name": "one"}, "mark": {"type": "text", "text": "1/", "fontSize": 15, "align": "left", "baseline": "alphabetic"},
       "encoding": {"x": {"datum": 0.0034019, "type": "quantitative", "axis": null}, "y": {"datum": 5526, "type": "quantitative", "axis": null}}},
      {"data": {"name": "one"}, "mark": {"type": "text", "text": "T", "fontSize": 15, "fontStyle": "italic", "align": "left", "baseline": "alphabetic"},
       "encoding": {"x": {"datum": 0.0034137, "type": "quantitative", "axis": null}, "y": {"datum": 5526, "type": "quantitative", "axis": null}}}
    ],
    "resolve": {"axis": {"x": "independent", "y": "independent"}}
  }
],
"resolve": {"scale": {"x": "independent", "y": "independent", "color": "independent"}, "axis": {"x": "independent", "y": "independent"}}
}
